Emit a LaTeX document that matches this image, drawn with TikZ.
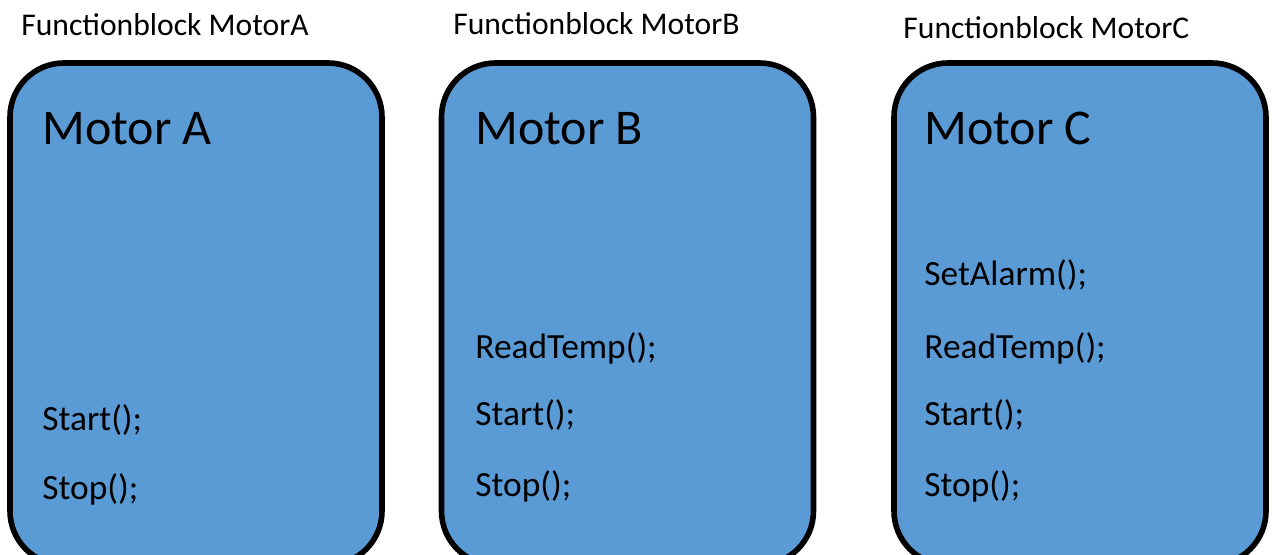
\documentclass[tikz,border=0pt]{standalone}
\usepackage{fontspec}
\setmainfont{Carlito}
\usetikzlibrary{positioning}
\definecolor{motorblue}{HTML}{5B9BD5}

\begin{document}
\begin{tikzpicture}[
  x=0.5pt, y=-0.5pt,
  fbox/.style={draw=black, line width=2.8pt, fill=motorblue, rounded corners=27pt,
               minimum width=186pt, minimum height=251pt, inner sep=0pt},
  fbtitle/.style={anchor=base west, inner sep=0pt, font=\fontsize{15.8}{18}\selectfont},
  mname/.style={anchor=base west, inner sep=0pt, font=\fontsize{25}{29}\selectfont},
  call/.style={anchor=base west, inner sep=0pt, font=\fontsize{17.7}{20}\selectfont}
]
  \useasboundingbox (0,0) rectangle (1275,555);

  % blocks
  \node[fbox] (motorA) at (196,314) {};
  \node[fbox] (motorB) at (627.5,314) {};
  \node[fbox] (motorC) at (1080,314) {};

  \node[fbtitle] (titleA) at (21,36) {Functionblock MotorA};
  \node[fbtitle] (titleB) at (453,35) {Functionblock MotorB};
  \node[fbtitle] (titleC) at (903,39) {Functionblock MotorC};

  \node[mname] (nameA) at (42,145) {Motor A};
  \node[mname] (nameB) at (475,145) {Motor B};
  \node[mname] (nameC) at (924,145) {Motor C};

  \node[call] (startA) at (42,431) {Start();};
  \node[call] (stopA) at (42,500) {Stop();};

  \node[call] (readB) at (475,359) {ReadTemp();};
  \node[call] (startB) at (475,426) {Start();};
  \node[call] (stopB) at (475,497) {Stop();};

  \node[call] (alarmC) at (924,286) {SetAlarm();};
  \node[call] (readC) at (924,359) {ReadTemp();};
  \node[call] (startC) at (924,426) {Start();};
  \node[call] (stopC) at (924,497) {Stop();};
\end{tikzpicture}
\end{document}
